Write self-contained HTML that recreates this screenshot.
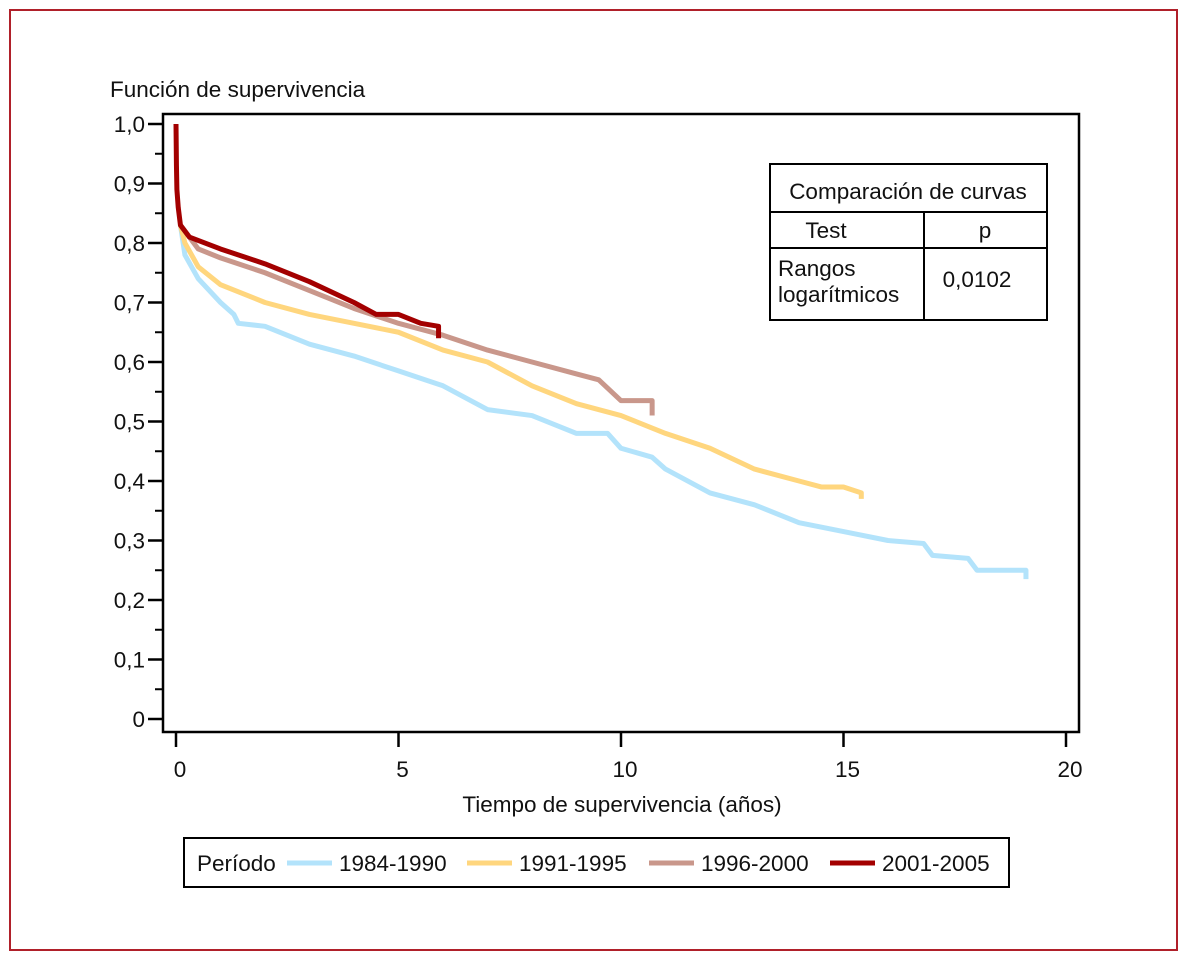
<!DOCTYPE html>
<html><head><meta charset="utf-8"><style>
body{margin:0;background:#fff}
svg{display:block}
text{font-family:"Liberation Sans Narrow","Liberation Sans",sans-serif;font-size:22.5px;fill:#111}
</style></head><body>
<svg id="c" width="1187" height="960">
<rect x="10" y="10" width="1167" height="940" fill="none" stroke="#b0202a" stroke-width="2"/>
<text x="110" y="97">Función de supervivencia</text>
<rect x="163" y="114" width="916" height="618" fill="none" stroke="#000" stroke-width="2.5"/>
<g id="axes"></g>
<g id="series"></g>
<text x="622" y="812" text-anchor="middle">Tiempo de supervivencia (años)</text>
<g>
<rect x="770" y="164" width="277" height="156" fill="#fff" stroke="#000" stroke-width="2"/>
<line x1="770" y1="212" x2="1047" y2="212" stroke="#000" stroke-width="2"/>
<line x1="770" y1="248" x2="1047" y2="248" stroke="#000" stroke-width="2"/>
<line x1="924" y1="212" x2="924" y2="320" stroke="#000" stroke-width="2"/>
<text x="908" y="199" text-anchor="middle">Comparación de curvas</text>
<text x="826" y="238" text-anchor="middle">Test</text>
<text x="985" y="238" text-anchor="middle">p</text>
<text x="778" y="276">Rangos</text>
<text x="778" y="302">logarítmicos</text>
<text x="977" y="287" text-anchor="middle">0,0102</text>
</g>
<g>
<rect x="184" y="838" width="825" height="49" fill="#fff" stroke="#000" stroke-width="2"/>
<text x="197" y="871">Período</text>
<g id="legend-items"></g>
</g>
</svg>
<script>
const periods=["1984-1990","1991-1995","1996-2000","2001-2005"];
const colors=["#b3e3fb","#ffd67e","#c9978b","#a30000"];
const t1984=[0.1,0.2,0.5,1,1.3,1.4,2,3,4,5,6,7,8,9,9.7,10,10.7,11,12,13,14,15,16,16.8,17,17.8,18,19.1,19.1];
const s1984=[0.83,0.78,0.74,0.70,0.68,0.665,0.66,0.63,0.61,0.585,0.56,0.52,0.51,0.48,0.48,0.455,0.44,0.42,0.38,0.36,0.33,0.315,0.30,0.295,0.275,0.27,0.25,0.25,0.235];
const t1991=[0.1,0.2,0.5,1,2,3,4,5,6,7,8,9,10,11,12,13,14,14.5,15,15.4,15.4];
const s1991=[0.83,0.80,0.76,0.73,0.70,0.68,0.665,0.65,0.62,0.60,0.56,0.53,0.51,0.48,0.455,0.42,0.40,0.39,0.39,0.38,0.37];
const t1996=[0.1,0.5,1,2,3,4,5,6,7,8,9,9.5,10,10.7,10.7];
const s1996=[0.83,0.79,0.775,0.75,0.72,0.69,0.665,0.645,0.62,0.60,0.58,0.57,0.535,0.535,0.51];
const t2001=[0,0.01,0.02,0.05,0.1,0.3,1,2,3,4,4.5,5,5.5,5.9,5.9];
const s2001=[1,0.93,0.89,0.86,0.83,0.81,0.79,0.765,0.735,0.70,0.68,0.68,0.665,0.66,0.64];
const yTicks=[0,0.1,0.2,0.3,0.4,0.5,0.6,0.7,0.8,0.9,1.0];
const yLabels=["0","0,1","0,2","0,3","0,4","0,5","0,6","0,7","0,8","0,9","1,0"];
const xTicks=[0,5,10,15,20];
const NS="http://www.w3.org/2000/svg";
const X=t=>176+44.5*t, Y=s=>719-595*s;
function mk(tag,attrs,parent){const e=document.createElementNS(NS,tag);for(const k in attrs)e.setAttribute(k,attrs[k]);parent.appendChild(e);return e;}
const ax=document.getElementById('axes');
yTicks.forEach((v,i)=>{
 const l=mk('line',{x1:148,x2:163,y1:Y(v),y2:Y(v),stroke:'#000','stroke-width':2.5},ax);
 
 
 const t=mk('text',{x:145,y:Y(v)+8,'text-anchor':'end'},ax);t.textContent=yLabels[i];
 
 
 if(i<yTicks.length-1){const m=mk('line',{x1:155,x2:163,y1:Y(v+0.05),y2:Y(v+0.05),stroke:'#000','stroke-width':2},ax);
 
 }
});
xTicks.forEach(v=>{
 const l=mk('line',{x1:X(v),x2:X(v),y1:732,y2:747,stroke:'#000','stroke-width':2.5},ax);
 
 
 const t=mk('text',{x:X(v)+4,y:777,'text-anchor':'middle'},ax);t.textContent=String(v);
 
 
});
const ser=document.getElementById('series');
const data=[[t1984,s1984],[t1991,s1991],[t1996,s1996],[t2001,s2001]];
data.forEach(([t,s],k)=>{
 let d='M'+X(t[0])+','+Y(s[0]);
 for(let i=1;i<t.length;i++){d+=' L'+X(t[i])+','+Y(s[i]);}
 const p=mk('path',{d:d,fill:'none',stroke:colors[k],'stroke-width':5,'stroke-linejoin':'round'},ser);
 
 
});
const lg=document.getElementById('legend-items');
const lx=[287,467,649,830];
periods.forEach((p,k)=>{
 const l=mk('line',{x1:lx[k],x2:lx[k]+45,y1:863,y2:863,stroke:colors[k],'stroke-width':5},lg);
 
 
 const t=mk('text',{x:lx[k]+52,y:871},lg);t.textContent=p;
 
 
});
</script>
</body></html>
